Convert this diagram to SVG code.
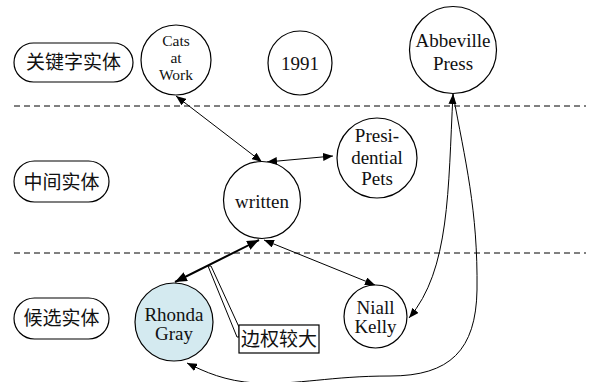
<svg xmlns="http://www.w3.org/2000/svg" width="594" height="382" viewBox="0 0 594 382">
<defs>
<marker id="ah" viewBox="0 0 10 8" refX="10" refY="4" markerWidth="10" markerHeight="8" markerUnits="userSpaceOnUse" orient="auto-start-reverse">
<path d="M0,0 L10,4 L0,8 Z" fill="#000"/>
</marker>
<marker id="ahb" viewBox="0 0 10 8" refX="10" refY="4" markerWidth="12" markerHeight="10" markerUnits="userSpaceOnUse" orient="auto-start-reverse">
<path d="M0,0 L10,4 L0,8 Z" fill="#000"/>
</marker>
</defs>
<style>
.node{fill:#fff;stroke:#000;stroke-width:1.2}
.pill{fill:#fff;stroke:#000;stroke-width:1.2}
.t{font-family:'Liberation Serif','Times New Roman',Times,Tinos,'Noto Serif','DejaVu Serif',serif;font-size:19px;text-anchor:middle;fill:#111}
.s{font-size:15.5px}
.c{font-family:'Noto Sans CJK SC',sans-serif;font-size:19px;text-anchor:middle;fill:#111}
.dash{stroke:#000;stroke-width:1;stroke-dasharray:6,4;fill:none}
.e{stroke:#000;stroke-width:1;fill:none}
</style>
<rect width="594" height="382" fill="#fff"/>
<g id="separators">
<line class="dash" x1="14" y1="106" x2="586" y2="106"/>
<line class="dash" x1="14" y1="253" x2="586" y2="253"/>
</g>
<g id="label-keyword"><rect class="pill" x="14" y="43" width="119" height="39" rx="19.5"/><text class="c" x="73.5" y="69">关键字实体</text></g>
<g id="label-middle"><rect class="pill" x="14" y="161" width="95" height="41" rx="20.5"/><text class="c" x="61.5" y="189">中间实体</text></g>
<g id="label-candidate"><rect class="pill" x="14" y="298" width="95" height="41" rx="20.5"/><text class="c" x="61.5" y="325">候选实体</text></g>
<g id="connectors">
<line class="e" x1="176" y1="96" x2="262" y2="162" marker-start="url(#ah)" marker-end="url(#ah)"/>
<line class="e" x1="267" y1="162" x2="333" y2="156" marker-start="url(#ah)" marker-end="url(#ah)"/>
<line class="e" x1="264" y1="240" x2="375" y2="285" marker-start="url(#ah)" marker-end="url(#ah)"/>
<line x1="259" y1="240" x2="175" y2="282" stroke="#000" stroke-width="2" marker-start="url(#ahb)" marker-end="url(#ahb)"/>
<path class="e" d="M453,94 C448,190 450,270 409,318" marker-start="url(#ah)" marker-end="url(#ah)"/>
<path class="e" d="M453,94 C465,160 478,210 477,290 C476,350 450,376 390,376 C330,376 300,385 255,383 C225,381 205,372 187,363" marker-end="url(#ah)"/>
</g>
<g id="callout-pointer"><path d="M208,266 L237,337 L239,337 L239,327 L211,266 Z" fill="#fff" stroke="#000" stroke-width="1"/></g>
<g id="node-cats"><circle class="node" cx="176" cy="60" r="35"/><text class="t s" x="176" y="46">Cats</text><text class="t s" x="176" y="63">at</text><text class="t s" x="176" y="80">Work</text></g>
<g id="node-1991"><circle class="node" cx="300" cy="63" r="32"/><text class="t" x="300" y="70">1991</text></g>
<g id="node-abbeville"><circle class="node" cx="453" cy="50" r="43.5"/><text class="t" x="453" y="47">Abbeville</text><text class="t" x="453" y="70">Press</text></g>
<g id="node-written"><circle class="node" cx="262" cy="200" r="38.5"/><text class="t" x="262" y="208">written</text></g>
<g id="node-pets"><circle class="node" cx="377" cy="158" r="40"/><text class="t" x="377" y="142">Presi-</text><text class="t" x="377" y="164">dential</text><text class="t" x="377" y="185">Pets</text></g>
<g id="node-rhonda"><circle cx="174" cy="322" r="39" fill="#d4eaf0" stroke="#000" stroke-width="1.2"/><text class="t" x="174" y="321">Rhonda</text><text class="t" x="174" y="340">Gray</text></g>
<g id="node-niall"><circle class="node" cx="375.5" cy="316.5" r="31.5"/><text class="t" x="375.5" y="314">Niall</text><text class="t" x="375.5" y="333">Kelly</text></g>
<g id="callout-box"><rect x="239" y="325" width="80" height="28" fill="#fff" stroke="#000" stroke-width="1.2"/><text class="c" x="279" y="346">边权较大</text></g>
</svg>
